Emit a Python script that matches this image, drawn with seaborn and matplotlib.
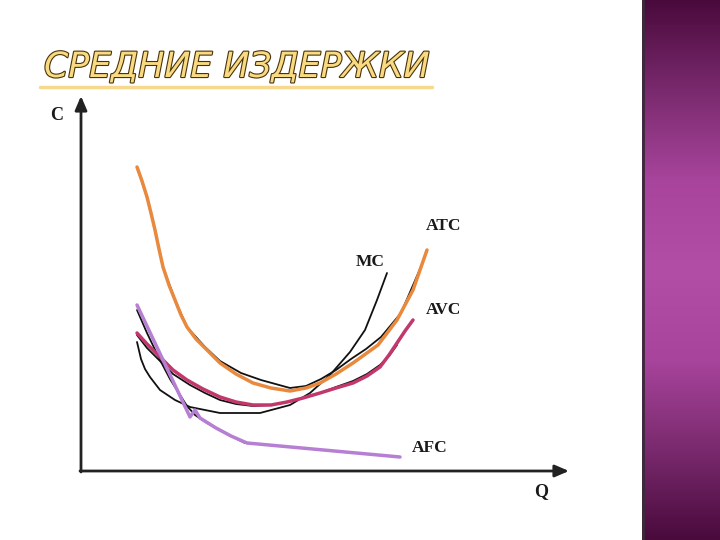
import numpy as np
import pandas as pd
import matplotlib
matplotlib.use("Agg")
import matplotlib.pyplot as plt
import matplotlib.patheffects as pe
from matplotlib.colors import LinearSegmentedColormap
import seaborn as sns

# ---------------- data (Q = output, C = cost; arbitrary units) ----
atc_q = [56, 61, 66, 70, 74, 78, 82, 88, 94, 100, 106, 115, 124, 139, 155, 172, 190, 209, 225, 239, 255, 272, 297, 316, 332, 346]
atc_c = [304, 290, 274, 258, 241, 222, 204, 186, 171, 156, 144, 132, 123, 108, 97, 88, 83, 80, 83, 88, 97, 108, 126, 151, 181, 221]

atc_black_q = [56, 66, 74, 82, 94, 106, 124, 139, 160, 180, 209, 225, 240, 255, 270, 285, 300, 320, 336, 342]
atc_black_c = [304, 274, 241, 204, 171, 144, 124, 110, 98, 91, 83, 85, 92, 101, 112, 122, 134, 158, 195, 209]

mc_q = [56, 60, 64, 69, 79, 94, 109, 139, 179, 209, 229, 249, 269, 284, 296, 306]
mc_c = [129, 112, 102, 94, 81, 71, 64, 58, 58, 66, 78, 96, 119, 141, 171, 198]

avc_q = [56, 66, 79, 92, 106, 122, 139, 155, 172, 190, 206, 222, 239, 255, 272, 286, 299, 308, 316, 324, 332]
avc_c = [138, 127, 114, 101, 91, 82, 74, 69, 66, 66, 69, 73, 78, 83, 88, 95, 104, 116, 128, 140, 151]

avc_black_q = [56, 66, 79, 92, 109, 124, 139, 155, 172, 190, 206, 222, 239, 255, 272, 286, 299, 308, 316]
avc_black_c = [136, 123, 110, 97, 86, 78, 71, 67, 65, 66, 69, 73, 78, 84, 90, 97, 106, 115, 126]

afc_q = [56, 109, 114, 119, 135, 150, 166, 319]
afc_c = [166, 54, 61, 53, 43, 35, 28, 14]

afc_black_q = [56, 66, 79, 89, 99, 106, 114, 126, 139, 152, 164]
afc_black_c = [161, 138, 111, 92, 76, 65, 56, 48, 41, 34, 28]

labels = ["ATC", "MC", "AVC", "AFC"]
label_q = [363, 289, 363, 349]
label_c = [245, 209, 161, 23]

title = "СРЕДНИЕ ИЗДЕРЖКИ"
x_label = "Q"
y_label = "C"

# ---------------- figure ----------------
sns.set_theme(style="white")
plt.rcParams["font.family"] = ["DejaVu Sans"]

fig = plt.figure(figsize=(7.2, 5.4), dpi=100)
fig.patch.set_facecolor("white")

# right decorative purple panel
pax = fig.add_axes([642 / 720, 0, 78 / 720, 1])
grad_cmap = LinearSegmentedColormap.from_list(
    "slide", ["#4a0a3c", "#7a2a6e", "#a8449c", "#b24ea6", "#a8449c", "#7a2a6e", "#4a0a3c"])
g = np.linspace(0, 1, 256).reshape(-1, 1)
pax.imshow(g, aspect="auto", cmap=grad_cmap, extent=[0, 1, 0, 1])
pax.axvline(0.01, color="#3a2a3a", lw=2)
pax.set_axis_off()

# main chart axes, units mapped 1:1 to pixels, origin at the axis corner
ax = fig.add_axes([0, 0, 642 / 720, 1])
ax.set_xlim(-81, 642 - 81)
ax.set_ylim(471 - 540, 471)
ax.set_axis_off()

def draw(q, c, color, lw, z):
    df = pd.DataFrame({"Q": q, "C": c})
    sns.lineplot(data=df, x="Q", y="C", ax=ax, color=color, lw=lw,
                 sort=False, estimator=None, zorder=z, legend=False)

# original black curves
draw(atc_black_q, atc_black_c, "#111111", 1.3, 2)
draw(mc_q, mc_c, "#111111", 1.3, 2)
draw(avc_black_q, avc_black_c, "#111111", 1.3, 2)
draw(afc_black_q, afc_black_c, "#111111", 1.3, 2)

# coloured overlays
draw(atc_q, atc_c, "#E8893E", 2.5, 3)
draw(avc_q, avc_c, "#C2376C", 2.5, 3)
draw(afc_q, afc_c, "#B77FD3", 2.5, 4)

# axes with arrows
arrow_kw = dict(arrowstyle="-|>,head_length=0.7,head_width=0.3", color="#222222", lw=2,
                shrinkA=0, shrinkB=0)
ax.annotate("", xy=(0, 375), xytext=(0, -1), arrowprops=arrow_kw, annotation_clip=False)
ax.annotate("", xy=(488, 0), xytext=(-1, 0), arrowprops=arrow_kw, annotation_clip=False)

serif = ["Liberation Serif", "DejaVu Serif"]
ax.text(-24, 356, y_label, family=serif, fontweight="bold", fontsize=13,
        ha="center", va="center", color="#1a1a1a")
ax.text(460, -21, x_label, family=serif, fontweight="bold", fontsize=13,
        ha="center", va="center", color="#1a1a1a")
for t, q, c in zip(labels, label_q, label_c):
    ax.text(q, c, t, family=serif, fontweight="bold", fontsize=12.5,
            ha="center", va="center", color="#1a1a1a")

# title with outline and underline
fig.text(44 / 720, 1 - 67 / 540, title, family=["DejaVu Sans"],
         style="oblique", fontsize=25, color="#F8DA82", ha="left", va="center",
         path_effects=[pe.Stroke(linewidth=1.6, foreground="#4a3208"), pe.Normal()])
fig.add_artist(plt.Line2D([40 / 720, 432 / 720], [1 - 87 / 540, 1 - 87 / 540],
                          color="#F6D98C", lw=2.5))

fig.savefig("out.png", dpi=100, facecolor="white")
